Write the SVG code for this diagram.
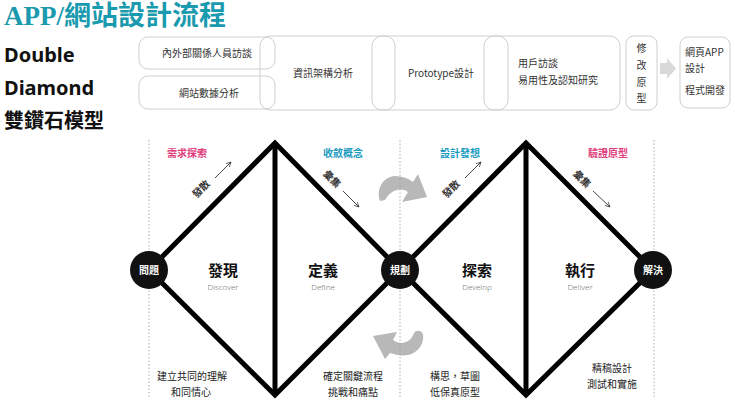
<svg xmlns="http://www.w3.org/2000/svg" width="735" height="408" viewBox="0 0 735 408">
<defs>
<style>
.cjk{font-family:"Noto Sans CJK TC","Noto Sans",sans-serif;}
.box{fill:none;stroke:#cfcfcf;stroke-width:1;}
.bt{font-family:"Noto Sans CJK TC","Noto Sans",sans-serif;font-size:10px;fill:#333;}
.dia{fill:none;stroke:#000;stroke-width:5;stroke-linejoin:miter;}
.dot{stroke:#999;stroke-width:0.8;stroke-dasharray:1.5 2;}
.node circle{fill:#111;}
.nt{font-family:"Noto Sans CJK TC",sans-serif;font-size:10px;font-weight:bold;fill:#fff;text-anchor:middle;}
.big{font-family:"Noto Sans CJK TC",sans-serif;font-size:15px;font-weight:bold;fill:#111;text-anchor:middle;}
.sub{font-family:"Noto Sans","Noto Sans CJK TC",sans-serif;font-size:8px;font-weight:300;fill:#777;text-anchor:middle;}
.phase{font-family:"Noto Sans CJK TC",sans-serif;font-size:10px;font-weight:bold;text-anchor:middle;}
.pink{fill:#e0407c;}
.teal{fill:#1a9bc0;}
.dir{font-family:"Noto Sans CJK TC",sans-serif;font-size:10px;font-weight:bold;fill:#333;text-anchor:middle;}
.desc{font-family:"Noto Sans CJK TC",sans-serif;font-size:10px;fill:#222;text-anchor:middle;}
.arr{stroke:#333;stroke-width:0.9;fill:none;marker-end:url(#ah);}
.curve{fill:#b8b8b8;}
</style>
<marker id="ah" viewBox="0 0 10 10" refX="9" refY="5" markerWidth="6" markerHeight="6" orient="auto" markerUnits="userSpaceOnUse">
<path d="M1 1 L9 5 L1 9" fill="none" stroke="#333" stroke-width="1.2"/>
</marker>
</defs>

<!-- Title -->
<text x="4" y="25" font-family="'Liberation Serif','Noto Sans CJK TC',serif" font-size="27" font-weight="bold" fill="#1a9aae">APP/網站設計流程</text>
<text x="4" y="62" font-family="'Noto Sans','Noto Sans CJK TC',sans-serif" font-size="20" font-weight="bold" fill="#111">Double</text>
<text x="4" y="95" font-family="'Noto Sans','Noto Sans CJK TC',sans-serif" font-size="20" font-weight="bold" fill="#111">Diamond</text>
<text x="4" y="128" font-family="'Noto Sans CJK TC',sans-serif" font-size="20" font-weight="bold" fill="#111">雙鑽石模型</text>

<!-- Top process boxes -->
<g id="box-interview">
<rect class="box" x="139" y="37" width="136" height="32" rx="9"/>
<text class="bt" x="207" y="57" text-anchor="middle">內外部關係人員訪談</text>
</g>
<g id="box-data">
<rect class="box" x="139" y="76" width="136" height="33" rx="9"/>
<text class="bt" x="209" y="97" text-anchor="middle">網站數據分析</text>
</g>
<g id="box-ia">
<rect class="box" x="260" y="36" width="135" height="74" rx="10"/>
<text class="bt" x="323" y="77" text-anchor="middle">資訊架構分析</text>
</g>
<g id="box-proto">
<rect class="box" x="372" y="36" width="136" height="74" rx="10"/>
<text class="bt" x="441" y="77" text-anchor="middle">Prototype設計</text>
</g>
<g id="box-user">
<rect class="box" x="484" y="36" width="136" height="74" rx="10"/>
<text class="bt" x="518" y="67">用戶訪談</text>
<text class="bt" x="518" y="84">易用性及認知研究</text>
</g>
<g id="box-revise">
<rect class="box" x="626" y="36" width="31" height="74" rx="8"/>
<text class="bt" x="641.5" y="52" text-anchor="middle">修</text>
<text class="bt" x="641.5" y="69" text-anchor="middle">改</text>
<text class="bt" x="641.5" y="86" text-anchor="middle">原</text>
<text class="bt" x="641.5" y="102" text-anchor="middle">型</text>
</g>
<g id="box-dev">
<rect class="box" x="680" y="37" width="50" height="71" rx="8"/>
<text class="bt" x="685" y="56">網頁APP</text>
<text class="bt" x="685" y="72">設計</text>
<text class="bt" x="685" y="94">程式開發</text>
</g>
<g id="connectors">
<path d="M660 63 L667 63 L667 58 L676 68.5 L667 79 L667 74 L660 74 Z" fill="#d9d9d9"/>

<!-- curved gray arrows -->
<path class="curve" d="M380 201 C376 190 382 177 395 176 C402 176 408 178 413 182 L418 174 L427 197 L402 202 L408 192 C400 187 391 190 385 200 Z"/>
<path class="curve" d="M373 336 L397 332 L393 340 C400 345 410 344 414 333 C416 330 421 330 423 334 C425 348 412 361 390 353 L385 359 Z"/>

<!-- dotted guides -->
<line class="dot" x1="149" y1="140" x2="149" y2="398"/>
<line class="dot" x1="400" y1="140" x2="400" y2="398"/>
<line class="dot" x1="654" y1="140" x2="654" y2="398"/>

<!-- diamonds -->
<path class="dia" d="M149 270 L275 143 L400 270 L275 395 Z"/>
<line x1="275" y1="143" x2="275" y2="395" stroke="#000" stroke-width="5"/>
<path class="dia" d="M400 270 L526 143 L653 270 L526 395 Z"/>
<line x1="526" y1="143" x2="526" y2="395" stroke="#000" stroke-width="5"/>

<!-- small direction arrows -->
<line class="arr" x1="215" y1="178" x2="231" y2="162"/>
<line class="arr" x1="343" y1="191" x2="359" y2="207"/>
<line class="arr" x1="465" y1="178" x2="481" y2="162"/>
<line class="arr" x1="593" y1="191" x2="610" y2="207"/>
</g>

<text class="dir" transform="translate(201 189) rotate(-45)" y="3.5">發散</text>
<text class="dir" transform="translate(332 179) rotate(45)" y="3.5">彙集</text>
<text class="dir" transform="translate(451 189) rotate(-45)" y="3.5">發散</text>
<text class="dir" transform="translate(582 179) rotate(45)" y="3.5">彙集</text>

<!-- phase labels -->
<text class="phase pink" x="187" y="157">需求探索</text>
<text class="phase teal" x="343" y="157">收斂概念</text>
<text class="phase teal" x="460" y="157">設計發想</text>
<text class="phase pink" x="608" y="157">驗證原型</text>

<!-- stage titles -->
<g id="stage-discover">
<text class="big" x="223" y="276">發現</text>
<text class="sub" x="223" y="290">Discover</text>
</g>
<g id="stage-define">
<text class="big" x="323" y="276">定義</text>
<text class="sub" x="323" y="290">Define</text>
</g>
<g id="stage-develop">
<text class="big" x="477" y="276">探索</text>
<text class="sub" x="477" y="290">Develop</text>
</g>
<g id="stage-deliver">
<text class="big" x="580" y="276">執行</text>
<text class="sub" x="580" y="290">Deliver</text>
</g>

<!-- nodes -->
<g id="node-problem" class="node">
<circle cx="149" cy="270" r="19"/>
<text class="nt" x="149" y="274">問題</text>
</g>
<g id="node-plan" class="node">
<circle cx="400" cy="270" r="19"/>
<text class="nt" x="400" y="274">規劃</text>
</g>
<g id="node-solve" class="node">
<circle cx="653" cy="270" r="19"/>
<text class="nt" x="653" y="274">解決</text>
</g>

<!-- descriptions -->
<text class="desc" x="192" y="380">建立共同的理解</text>
<text class="desc" x="191" y="396">和同情心</text>
<text class="desc" x="353" y="380">確定關鍵流程</text>
<text class="desc" x="353" y="396">挑戰和痛點</text>
<text class="desc" x="455" y="380">構思，草圖</text>
<text class="desc" x="455" y="396">低保真原型</text>
<text class="desc" x="612" y="372">精稿設計</text>
<text class="desc" x="612" y="388">測試和實施</text>
</svg>
